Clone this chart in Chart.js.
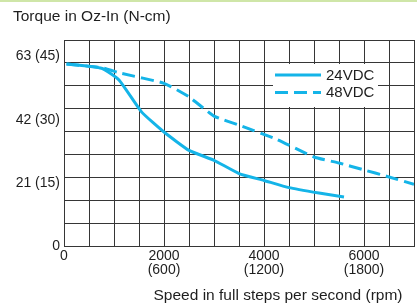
<!DOCTYPE html>
<html>
<head>
<meta charset="utf-8">
<script src="https://cdn.jsdelivr.net/npm/chart.js@4.4.1/dist/chart.umd.min.js"></script>
<style>
html,body{margin:0;padding:0;background:#fff;}
#wrap{width:417px;height:307px;}
</style>
</head>
<body>
<div id="wrap"><canvas id="c" width="417" height="307"></canvas></div>
<script>
// ---- data ----
const speed24  = [50, 750, 1100, 1550, 2000, 2500, 3000, 3500, 4000, 4500, 5100, 5600];
const torque24 = [60.5, 59.1, 55.2, 44.6, 37.9, 31.8, 28.5, 24.1, 21.8, 19.4, 17.6, 16.3];
const speed48  = [50, 750, 1150, 2000, 2500, 3000, 3500, 4250, 5000, 5500, 6000, 6450, 7000];
const torque48 = [60.5, 59.3, 57.4, 54.1, 49.6, 43.2, 40.2, 35.5, 29.6, 27.6, 25.3, 23.2, 20.5];
const seriesLabels = ['24VDC', '48VDC'];

const xTickValues = [0, 2000, 4000, 6000];
const xTickLabels = [['0'], ['2000', '(600)'], ['4000', '(1200)'], ['6000', '(1800)']];
const yTickValues = [0, 21, 42, 63];
const yTickLabels = ['0', '21 (15)', '42 (30)', '63 (45)'];
const xMax = 7000, xGridStep = 500;
const yMax = 68.5, yGridCount = 9;

const yTitle = 'Torque in Oz-In (N-cm)';
const xTitle = 'Speed in full steps per second (rpm)';

const lineColor = '#14b4e8';
const gridColor = '#363636';
const textColor = '#1e1e1e';
const FONT = '"Liberation Sans", Arial, sans-serif';

function pts(xs, ys){ return xs.map((x,i)=>({x:x, y:ys[i]})); }

const decor = {
  id: 'decor',
  beforeDraw(chart){
    const ctx = chart.ctx;
    ctx.save();
    ctx.fillStyle = '#fff';
    ctx.fillRect(0,0,chart.width,chart.height);
    ctx.fillStyle = '#cfe6a8';
    ctx.fillRect(0,0,chart.width,2);
    ctx.restore();
  },
  afterDraw(chart){
    const ctx = chart.ctx;
    ctx.save();
    ctx.fillStyle = textColor;
    ctx.font = '15.5px ' + FONT;
    ctx.textBaseline = 'middle';
    ctx.textAlign = 'left';
    ctx.fillText(yTitle, 13, 17);
    ctx.textAlign = 'center';
    ctx.fillText(xTitle, 278, 296);

    // legend
    ctx.fillStyle = '#fff';
    ctx.fillRect(273, 64, 105, 43);
    const ds = chart.data.datasets;
    const rows = [75, 92.5];
    ds.forEach((d, i) => {
      ctx.strokeStyle = d.borderColor;
      ctx.lineWidth = d.borderWidth;
      ctx.setLineDash(d.borderDash || []);
      ctx.beginPath();
      ctx.moveTo(275, rows[i]);
      ctx.lineTo(321, rows[i]);
      ctx.stroke();
      ctx.setLineDash([]);
      ctx.fillStyle = textColor;
      ctx.font = '15px ' + FONT;
      ctx.textAlign = 'left';
      ctx.fillText(d.label, 326, rows[i] + 0.5);
    });
    ctx.restore();
  }
};

new Chart(document.getElementById('c'), {
  type: 'line',
  data: {
    datasets: [
      { label: seriesLabels[0], data: pts(speed24, torque24), borderColor: lineColor, borderWidth: 3,
        pointRadius: 0, tension: 0.15, fill: false },
      { label: seriesLabels[1], data: pts(speed48, torque48), borderColor: lineColor, borderWidth: 3,
        borderDash: [13, 6], pointRadius: 0, tension: 0.15, fill: false }
    ]
  },
  options: {
    responsive: false,
    animation: false,
    devicePixelRatio: 1,
    layout: { padding: { top: 40, right: 3, left: 0, bottom: 0 } },
    plugins: { legend: { display: false }, title: { display: false }, tooltip: { enabled: false } },
    scales: {
      x: {
        type: 'linear', min: 0, max: xMax,
        afterBuildTicks(s){ const t=[]; for(let v=0; v<=xMax; v+=xGridStep) t.push({value:v}); s.ticks = t; },
        afterFit(s){ s.height = 61; },
        grid: { color: gridColor, lineWidth: 1, drawTicks: false },
        border: { color: gridColor, width: 1 },
        ticks: {
          autoSkip: false, maxRotation: 0, minRotation: 0, padding: 3, color: textColor,
          font: { size: 14, family: FONT, lineHeight: 1.0 },
          callback(v){ const i = xTickValues.indexOf(v); return i >= 0 ? xTickLabels[i] : ''; }
        }
      },
      y: {
        type: 'linear', min: 0, max: yMax, position: 'left',
        afterBuildTicks(s){ const t=[]; for(let i=0;i<=yGridCount;i++) t.push({value: yMax*i/yGridCount}); s.ticks = t; },
        afterFit(s){ s.width = 0; },
        grid: { color: gridColor, lineWidth: 1, drawTicks: false },
        border: { color: gridColor, width: 1 },
        ticks: { display: false }
      },
      yl: {
        type: 'linear', min: 0, max: yMax, position: 'left',
        afterBuildTicks(s){ s.ticks = yTickValues.map(v=>({value:v})); },
        afterFit(s){ s.width = 64; },
        grid: { display: false, drawTicks: false },
        border: { display: false },
        ticks: {
          padding: 4, color: textColor, font: { size: 14, family: FONT },
          callback(v){ const i = yTickValues.indexOf(v); return i >= 0 ? yTickLabels[i] : ''; }
        }
      }
    }
  },
  plugins: [decor]
});
</script>
</body>
</html>
